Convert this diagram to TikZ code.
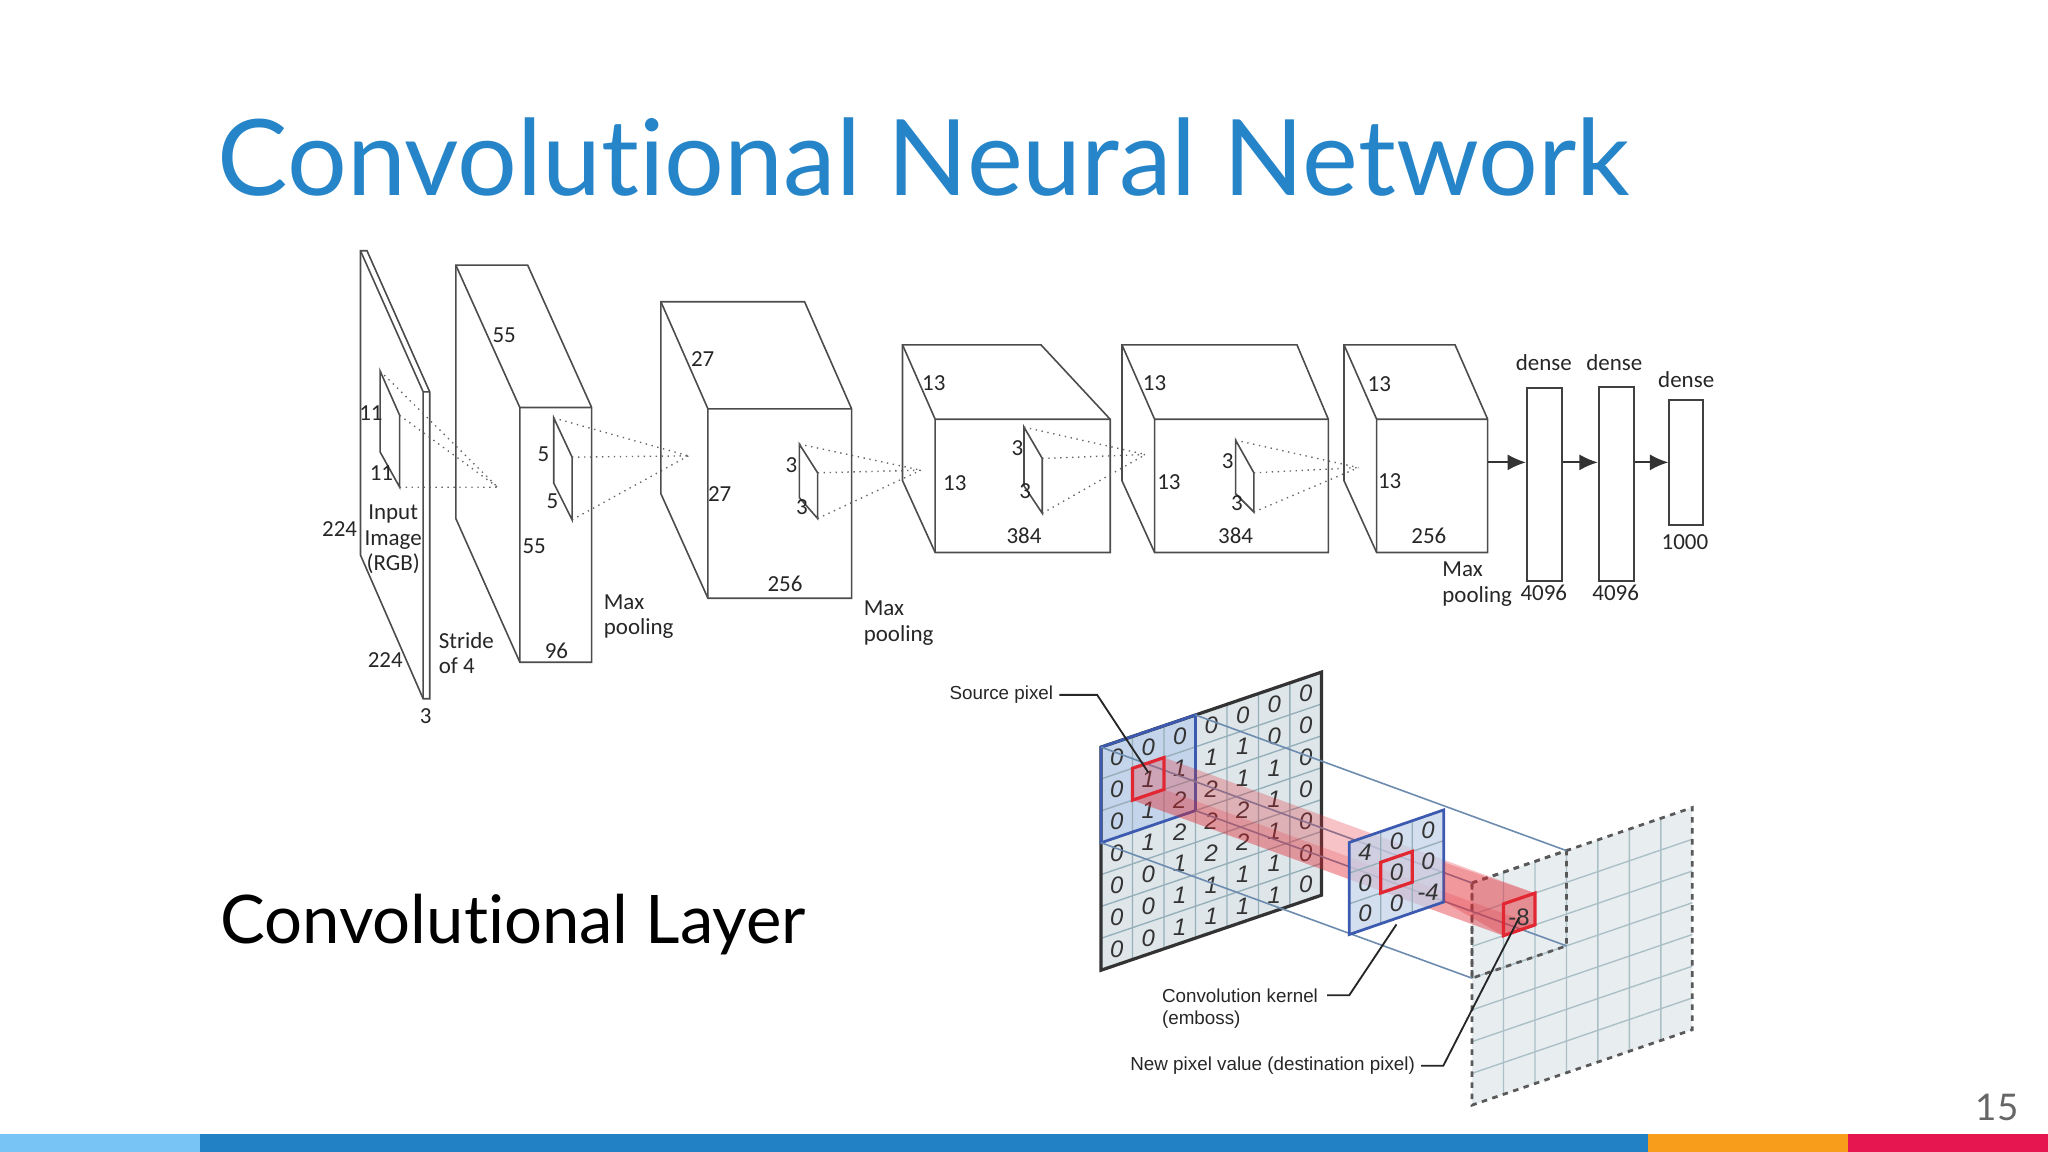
\documentclass[tikz,border=0pt]{standalone}
\usepackage{fontspec}
\setmainfont{Lato}[Ligatures=NoCommon]
\newfontfamily\carl{Carlito}
\newfontfamily\arl{Liberation Sans}
\usetikzlibrary{arrows.meta}
\definecolor{titleblue}{RGB}{38,133,200}
\definecolor{barA}{RGB}{120,196,245}
\definecolor{barB}{RGB}{34,128,196}
\definecolor{barC}{RGB}{248,156,28}
\definecolor{barD}{RGB}{230,22,80}
\definecolor{gridfill}{RGB}{222,230,234}
\definecolor{bluefill}{RGB}{196,212,234}
\definecolor{blueedge}{RGB}{60,90,175}
\definecolor{gline}{RGB}{150,175,185}
\definecolor{fline}{RGB}{110,140,175}
\definecolor{pix}{RGB}{225,40,50}
\tikzset{
  lbl/.style={font=\fontsize{5}{5.6}\selectfont\carl, inner sep=0, align=center, text=black!85},
  cl/.style={font=\fontsize{4.1}{4.8}\selectfont\arl, inner sep=0, align=left, text=black!85},
  dig/.style={font=\fontsize{5.2}{5.2}\selectfont\arl\itshape, inner sep=0, text=black!80},
  edge/.style={draw=black!70, line width=0.35pt},
  dots/.style={draw=black!60, line width=0.3pt, densely dotted},
  lead/.style={draw=black!85, line width=0.4pt},
}
\begin{document}
\begin{tikzpicture}[x=0.1mm,y=-0.1mm]
\useasboundingbox (0,0) rectangle (1568,882);
% bottom bar
\fill[barA] (0,868) rectangle (153,882);
\fill[barB] (153,868) rectangle (1262,882);
\fill[barC] (1262,868) rectangle (1415,882);
\fill[barD] (1415,868) rectangle (1568,882);
\node[anchor=base east, font=\fontsize{8}{8}\selectfont, text=black!60, inner sep=0] (pg) at (1546,858) {15};
% titles
\node[anchor=base west, font=\fontsize{23}{24}\selectfont, text=titleblue, inner sep=0] (title) at (166,150) {Convolutional Neural Network};
\node[anchor=base west, font=\fontsize{14.6}{15}\selectfont, inner sep=0] (sub) at (168,722) {Convolutional Layer};

% ===== CNN =====
% input slab
\draw[edge] (276,192)--(281,192)--(329,300)--(329,535)--(324,535)--(276,425)--cycle;
\draw[edge] (276,192)--(324,300)--(324,535) (324,300)--(329,300);
\draw[edge] (291,284)--(291,346)--(306,373)--(306,318)--cycle;
\draw[dots] (291,284)--(381,373) (306,318)--(381,373) (306,373)--(381,373);
\node[lbl] (i11a) at (284,316) {11};
\node[lbl] (i11b) at (292,362) {11};
\node[lbl] (i224a) at (260,405) {224};
\node[lbl] (iin) at (301,413) {Input\\Image\\(RGB)};
\node[lbl] (i224b) at (295,505) {224};
\node[lbl] (i3) at (326,548) {3};
\node[lbl, align=left] (str) at (357,500) {Stride\\of 4};
% box 2
\draw[edge] (349,203)--(404,203)--(453,312)--(453,507)--(398,507)--(349,397)--cycle;
\draw[edge] (349,203)--(398,312)--(453,312) (398,312)--(398,507);
\draw[edge] (424,320)--(424,370)--(438,398)--(438,350)--cycle;
\draw[dots] (424,320)--(527,349) (438,350)--(527,349) (438,398)--(527,349);
\node[lbl] (b55a) at (386,257) {55};
\node[lbl] (b55b) at (409,418) {55};
\node[lbl] (b96) at (426,498) {96};
\node[lbl] (b5a) at (416,348) {5};
\node[lbl] (b5b) at (423,384) {5};
\node[lbl, align=left] (mp1) at (489,472) {Max\\pooling};
% box 3
\draw[edge] (506,231)--(616,231)--(652,313)--(652,458)--(542,458)--(506,378)--cycle;
\draw[edge] (506,231)--(542,313)--(652,313) (542,313)--(542,458);
\draw[edge] (612,340)--(612,381)--(626,397)--(626,362)--cycle;
\draw[dots] (612,340)--(705,360) (626,362)--(705,360) (626,397)--(705,360);
\node[lbl] (c27a) at (538,275) {27};
\node[lbl] (c27b) at (551,378) {27};
\node[lbl] (c256) at (601,447) {256};
\node[lbl] (c3a) at (606,356) {3};
\node[lbl] (c3b) at (614,388) {3};
\node[lbl, align=left] (mp2) at (688,477) {Max\\pooling};
% box 4
\draw[edge] (691,264)--(797,264)--(850,321)--(850,423)--(716,423)--(691,368)--cycle;
\draw[edge] (691,264)--(716,321)--(850,321) (716,321)--(716,423);
\draw[edge] (784,327)--(784,372)--(798,393)--(798,351)--cycle;
\draw[dots] (784,327)--(877,348) (798,351)--(877,348) (798,393)--(877,348);
\node[lbl] (d13a) at (715,293) {13};
\node[lbl] (d13b) at (731,370) {13};
\node[lbl] (d384) at (784,410) {384};
\node[lbl] (d3a) at (779,343) {3};
\node[lbl] (d3b) at (785,376) {3};
% box 5
\draw[edge] (859,264)--(993,264)--(1017,321)--(1017,423)--(884,423)--(859,368)--cycle;
\draw[edge] (859,264)--(884,321)--(1017,321) (884,321)--(884,423);
\draw[edge] (946,337)--(946,378)--(960,392)--(960,362)--cycle;
\draw[dots] (946,337)--(1040,358) (960,362)--(1040,358) (960,392)--(1040,358);
\node[lbl] (e13a) at (884,293) {13};
\node[lbl] (e13b) at (895,369) {13};
\node[lbl] (e384) at (946,410) {384};
\node[lbl] (e3a) at (940,353) {3};
\node[lbl] (e3b) at (947,385) {3};
% box 6
\draw[edge] (1029,264)--(1114,264)--(1139,321)--(1139,423)--(1054,423)--(1029,368)--cycle;
\draw[edge] (1029,264)--(1054,321)--(1139,321) (1054,321)--(1054,423);
\node[lbl] (f13a) at (1056,294) {13};
\node[lbl] (f13b) at (1064,368) {13};
\node[lbl] (f256) at (1094,410) {256};
\node[lbl, align=left] (mp3) at (1131,447) {Max\\pooling};
% dense
\node[draw=black!75, line width=0.4pt, minimum width=27*0.1mm, minimum height=148*0.1mm, inner sep=0] (dA) at (1182.5,371) {};
\node[draw=black!75, line width=0.4pt, minimum width=27*0.1mm, minimum height=149*0.1mm, inner sep=0] (dB) at (1237.5,370.5) {};
\node[draw=black!75, line width=0.4pt, minimum width=26*0.1mm, minimum height=96*0.1mm, inner sep=0] (dC) at (1291,354) {};
\coordinate (f6) at (1139,354);
\draw[-{Latex[length=4pt,width=3.5pt]}, black!80, line width=0.4pt] (f6)--(f6-|dA.west);
\draw[-{Latex[length=4pt,width=3.5pt]}, black!80, line width=0.4pt] (dA.east|-f6)--(dB.west|-f6);
\draw[-{Latex[length=4pt,width=3.5pt]}, black!80, line width=0.4pt] (dB.east|-f6)--(dC.west|-f6);
\node[lbl] (dn1) at (1182,278) {dense};
\node[lbl] (dn2) at (1236,278) {dense};
\node[lbl] (dn3) at (1291,291) {dense};
\node[lbl] (n1) at (1182,454) {4096};
\node[lbl] (n2) at (1237,454) {4096};
\node[lbl] (n3) at (1290,415) {1000};

% ===== Convolution layer =====
\begin{scope}[shift={(843,572)},x={(24.1,-8.2)},y={(0,24.4)}]
  \fill[gridfill] (0,0)--(7,0)--(7,7)--(0,7)--cycle;
  \fill[bluefill] (0,0)--(3,0)--(3,3)--(0,3)--cycle;
  \foreach \i in {1,...,6} \draw[gline, line width=0.3pt] (\i,0)--(\i,7) (0,\i)--(7,\i);
  \foreach \row [count=\r from 0] in {{0,0,0,0,0,0,0},{0,1,1,1,1,0,0},{0,1,2,2,1,1,0},{0,1,2,2,2,1,0},{0,0,1,2,2,1,0},{0,0,1,1,1,1,0},{0,0,1,1,1,1,0}}
    \foreach \v [count=\c from 0] in \row \node[dig] (s\r\c) at (\c+.5,\r+.5) {\v};
  \draw[black!80, line width=0.7pt] (0,0)--(7,0)--(7,7)--(0,7)--cycle;
  \draw[blueedge, line width=0.6pt] (0,0)--(3,0)--(3,3)--(0,3)--cycle;
  \coordinate (sA) at (0,0); \coordinate (sB) at (3,0); \coordinate (sC) at (3,3); \coordinate (sD) at (0,3);
  \coordinate (p1) at (1,1); \coordinate (p2) at (2,1); \coordinate (p3) at (2,2); \coordinate (p4) at (1,2);
  \coordinate (spix) at (1.5,1.3);
\end{scope}
\begin{scope}[shift={(1127,676)},x={(24.1,-8.25)},y={(0,24.3)}]
  \fill[gridfill!70] (0,0)--(7,0)--(7,7)--(0,7)--cycle;
  \foreach \i in {1,...,6} \draw[gline!80, line width=0.3pt] (\i,0)--(\i,7) (0,\i)--(7,\i);
  \draw[black!65, line width=0.6pt, dash pattern=on 1.2pt off 1.2pt] (0,0)--(7,0)--(7,7)--(0,7)--cycle;
  \draw[black!65, line width=0.6pt, dash pattern=on 1.2pt off 1.2pt] (0,0)--(3,0)--(3,3)--(0,3)--cycle;
  \coordinate (dA0) at (0,0); \coordinate (dB0) at (3,0); \coordinate (dC0) at (3,3); \coordinate (dD0) at (0,3);
  \coordinate (q1) at (1,1); \coordinate (q2) at (2,1); \coordinate (q3) at (2,2); \coordinate (q4) at (1,2);
  \coordinate (dpix) at (1.5,1.6);
\end{scope}
\draw[fline, line width=0.35pt] (sA)--(dA0) (sB)--(dB0) (sC)--(dC0) (sD)--(dD0);
\fill[pix, opacity=0.28] (p1)--(p2)--(q2)--(q3)--(q4)--(p4)--cycle;
\fill[pix, opacity=0.2] (p4)--(p3)--(q3)--(q4)--cycle;
\begin{scope}[shift={(1033,645)},x={(24.1,-8.3)},y={(0,23.5)}]
  \fill[bluefill, opacity=0.75] (0,0)--(3,0)--(3,3)--(0,3)--cycle;
  \foreach \i in {1,2} \draw[gline, line width=0.3pt] (\i,0)--(\i,3) (0,\i)--(3,\i);
  \foreach \row [count=\r from 0] in {{4,0,0},{0,0,0},{0,0,-4}}
    \foreach \v [count=\c from 0] in \row \node[dig] (k\r\c) at (\c+.5,\r+.5) {\v};
  \draw[blueedge, line width=0.6pt] (0,0)--(3,0)--(3,3)--(0,3)--cycle;
  \draw[pix, line width=0.7pt] (1,1)--(2,1)--(2,2)--(1,2)--cycle;
  \coordinate (kpt) at (1.5,3.2);
\end{scope}
\fill[pix, opacity=0.28] (1105,660)--(q2)--(q3)--(q4)--(1105,690)--cycle;
\draw[pix, line width=0.7pt] (p1)--(p2)--(p3)--(p4)--cycle;
\draw[pix, line width=0.7pt] (q1)--(q2)--(q3)--(q4)--cycle;
\node[dig, font=\fontsize{5.2}{5.2}\selectfont\arl] (dv) at (1163,702) {-8};
\node[cl, anchor=east] (lsrc) at (807,532) {Source pixel};
\coordinate (lsrc1) at (840,532);
\draw[lead] (lsrc.east)++(4,0)--(lsrc1)--(spix);
\node[cl, anchor=north west] (lker) at (889,756) {Convolution kernel\\(emboss)};
\coordinate (lker1) at (1033,762);
\draw[lead] (1016,762)--(lker1)--(kpt);
\node[cl, anchor=east] (lnew) at (1084,816) {New pixel value (destination pixel)};
\coordinate (lnew1) at (1105,816);
\draw[lead] (lnew.east)++(4,0)--(lnew1)--(dpix);
\end{tikzpicture}
\end{document}
